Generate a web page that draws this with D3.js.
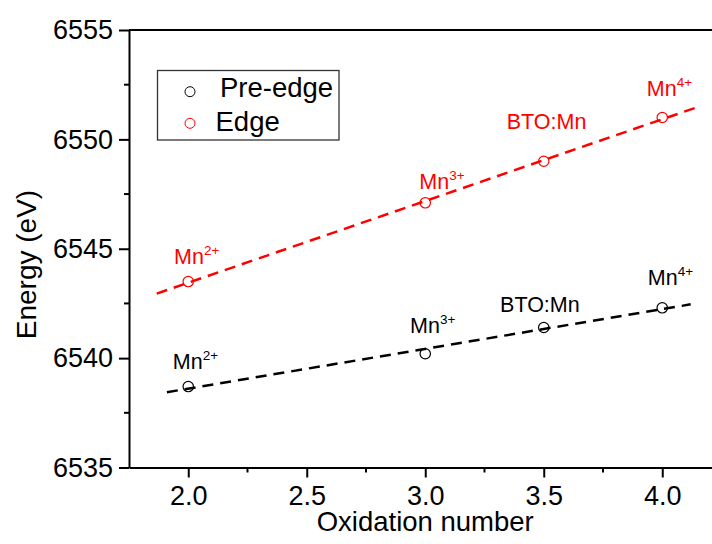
<!DOCTYPE html>
<html>
<head>
<meta charset="utf-8">
<script src="https://cdn.jsdelivr.net/npm/d3@7"></script>
<style>
  html, body { margin: 0; padding: 0; background: #fff; }
  svg { display: block; font-family: "Liberation Sans", Arial, sans-serif; }
</style>
</head>
<body>
<svg id="chart" width="712" height="544"></svg>
<script>
// Mn K-edge energies versus oxidation state
const oxidation = [2.0, 3.0, 3.5, 4.0];
const preEdge   = [6538.7, 6540.2, 6541.4, 6542.3];
const edge      = [6543.5, 6547.1, 6549.0, 6551.0];
const pointLabels = [["Mn", "2+"], ["Mn", "3+"], ["BTO:Mn", ""], ["Mn", "4+"]];
const xTicks = [2.0, 2.5, 3.0, 3.5, 4.0];
const xMinorTicks = [2.25, 2.75, 3.25, 3.75, 4.25];
const yTicks = [6535, 6540, 6545, 6550, 6555];
const yMinorTicks = [6537.5, 6542.5, 6547.5, 6552.5];
const seriesNames = ["Pre-edge", "Edge"];
// x-extent of each linear fit line
const fitRanges = [[1.91, 4.12], [1.867, 4.145]];

// pixel offsets of the labels from their points
const preLabelOffsets  = [[-15.5, -17.4], [-15.2, -20.6], [-43.7, -15.3], [-14.5, -22.9]];
const edgeLabelOffsets = [[-14.2, -17.4], [-6, -13.6], [-37, -32], [-15.5, -21.5]];

const svg = d3.select("#chart");
const plotLeft = 129, plotTop = 30, plotBottom = 467.5, plotRight = 721.5;

const x = d3.scaleLinear().domain([1.75, 4.25]).range([plotLeft, plotRight]);
const y = d3.scaleLinear().domain([6535, 6555]).range([plotBottom, plotTop]);

const series = [
  { name: seriesNames[0], values: preEdge, color: "#000000", offsets: preLabelOffsets, range: fitRanges[0] },
  { name: seriesNames[1], values: edge,    color: "#ff0000", offsets: edgeLabelOffsets, range: fitRanges[1] }
];

// least-squares fit
function fit(xs, ys) {
  const mx = d3.mean(xs), my = d3.mean(ys);
  let sxy = 0, sxx = 0;
  xs.forEach((v, i) => { sxy += (v - mx) * (ys[i] - my); sxx += (v - mx) * (v - mx); });
  const slope = sxy / sxx;
  return v => my + slope * (v - mx);
}

// frame (top edge; right edge falls outside the view)
svg.append("line")
  .attr("x1", plotLeft).attr("x2", plotRight).attr("y1", plotTop).attr("y2", plotTop)
  .attr("stroke", "#000").attr("stroke-width", 2);

// axes
const fmtX = d3.format(".1f");
const xAxis = svg.append("g").attr("transform", `translate(0,${plotBottom})`)
  .call(d3.axisBottom(x).tickValues(xTicks).tickFormat(fmtX).tickSize(10).tickSizeOuter(0).tickPadding(8.5));
xAxis.append("g").selectAll("line").data(xMinorTicks).join("line")
  .attr("x1", d => x(d)).attr("x2", d => x(d)).attr("y1", 0).attr("y2", 5)
  .attr("stroke", "#000").attr("stroke-width", 2);

const yAxis = svg.append("g").attr("transform", `translate(${plotLeft},0)`)
  .call(d3.axisLeft(y).tickValues(yTicks).tickFormat(d3.format("d")).tickSize(10).tickSizeOuter(0).tickPadding(6));
yAxis.append("g").selectAll("line").data(yMinorTicks).join("line")
  .attr("x1", 0).attr("x2", -5).attr("y1", d => y(d)).attr("y2", d => y(d))
  .attr("stroke", "#000").attr("stroke-width", 2);

[xAxis, yAxis].forEach(g => {
  g.selectAll(".domain").attr("stroke-width", 2);
  g.selectAll(".tick line").attr("stroke-width", 2);
  g.selectAll(".tick text").attr("font-size", 27).attr("fill", "#000")
    .attr("font-family", "'Liberation Sans', Arial, sans-serif");
});

// axis titles
svg.append("text")
  .attr("x", x(3.0)).attr("y", 531)
  .attr("text-anchor", "middle").attr("font-size", 27.5)
  .text("Oxidation number");
svg.append("text")
  .attr("transform", "translate(36,264.5) rotate(-90)")
  .attr("text-anchor", "middle").attr("font-size", 28)
  .text("Energy (eV)");

// fit lines, points and labels
series.forEach(s => {
  const f = fit(oxidation, s.values);
  svg.append("line")
    .attr("x1", x(s.range[0])).attr("y1", y(f(s.range[0])))
    .attr("x2", x(s.range[1])).attr("y2", y(f(s.range[1])))
    .attr("stroke", s.color).attr("stroke-width", 2.5)
    .attr("stroke-dasharray", "11,7");

  svg.append("g").selectAll("circle").data(s.values).join("circle")
    .attr("cx", (d, i) => x(oxidation[i]))
    .attr("cy", d => y(d))
    .attr("r", 5.2)
    .attr("fill", "none")
    .attr("stroke", s.color)
    .attr("stroke-width", 1.2);

  const labels = svg.append("g").selectAll("text").data(s.values).join("text")
    .attr("x", (d, i) => x(oxidation[i]) + s.offsets[i][0])
    .attr("y", (d, i) => y(d) + s.offsets[i][1])
    .attr("font-size", 21.5)
    .attr("fill", s.color);
  labels.append("tspan").text((d, i) => pointLabels[i][0]);
  labels.append("tspan")
    .attr("font-size", 13.5)
    .attr("dy", -8.8)
    .text((d, i) => pointLabels[i][1]);
});

// legend
const legend = svg.append("g");
legend.append("rect")
  .attr("x", 157.5).attr("y", 70.5).attr("width", 181.5).attr("height", 69.5)
  .attr("fill", "#fff").attr("stroke", "#333").attr("stroke-width", 1.3);
const legendRows = [{ cy: 91.7, tx: 220, ty: 97 }, { cy: 123.3, tx: 215.5, ty: 130.5 }];
series.forEach((s, i) => {
  legend.append("circle")
    .attr("cx", 190).attr("cy", legendRows[i].cy).attr("r", 5)
    .attr("fill", "none").attr("stroke", s.color).attr("stroke-width", 1);
  legend.append("text")
    .attr("x", legendRows[i].tx).attr("y", legendRows[i].ty)
    .attr("font-size", 27.5).attr("fill", "#000")
    .text(s.name);
});
</script>
</body>
</html>
